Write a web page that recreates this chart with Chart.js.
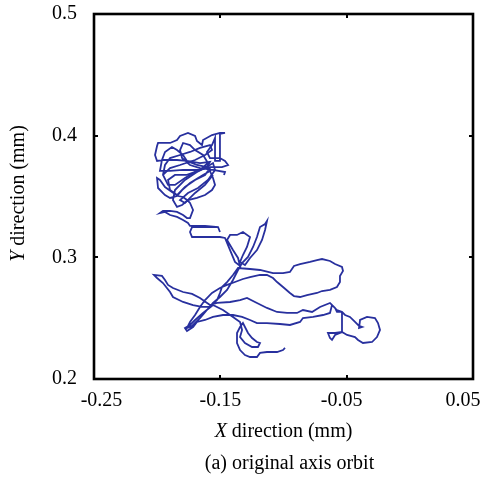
<!DOCTYPE html>
<html><head><meta charset="utf-8">
<script src="https://cdn.jsdelivr.net/npm/chart.js@4"></script>
<style>html,body{margin:0;padding:0;background:#fff}#wrap{width:484px;height:478px}</style>
</head><body><div id="wrap"><canvas id="c" width="484" height="478"></canvas></div>
<script>
// Axis ticks
const xTicks = [-0.25, -0.15, -0.05, 0.05];
const yTicks = [0.2, 0.3, 0.4, 0.5];
const xTitle = ['X', ' direction (mm)'];
const yTitle = ['Y', ' direction (mm)'];
const caption = '(a) original axis orbit';

// Orbit trace, [x (mm), y (mm)] in drawing order
const segBottomLoop = [[-0.0988,0.2255],[-0.1004,0.2238],[-0.1051,0.2222],[-0.1131,0.2222],[-0.1186,0.2214],[-0.1210,0.2181],[-0.1265,0.2181],[-0.1305,0.2197],[-0.1344,0.2238],[-0.1368,0.2296],[-0.1368,0.2378],[-0.1344,0.2427],[-0.1321,0.2460],[-0.1281,0.2378],[-0.1249,0.2337],[-0.1210,0.2304],[-0.1186,0.2296],[-0.1202,0.2263],[-0.1249,0.2263],[-0.1305,0.2296],[-0.1344,0.2345],[-0.1328,0.2403],[-0.1344,0.2469],[-0.1400,0.2510],[-0.1479,0.2567],[-0.1558,0.2608]];
const segLowerStrand = [[-0.1637,0.2543],[-0.1700,0.2485],[-0.1740,0.2444],[-0.1780,0.2419],[-0.1764,0.2395],[-0.1716,0.2427],[-0.1685,0.2469],[-0.1621,0.2485],[-0.1558,0.2510],[-0.1479,0.2526],[-0.1400,0.2526],[-0.1328,0.2510],[-0.1265,0.2485],[-0.1210,0.2460],[-0.1131,0.2460],[-0.1028,0.2452],[-0.0949,0.2444],[-0.0869,0.2469],[-0.0846,0.2501],[-0.0766,0.2510],[-0.0687,0.2526],[-0.0632,0.2543],[-0.0616,0.2608],[-0.0592,0.2584],[-0.0577,0.2551],[-0.0537,0.2551]];
const segRightLoop = [[-0.0513,0.2526],[-0.0474,0.2510],[-0.0434,0.2469],[-0.0402,0.2436],[-0.0378,0.2427],[-0.0402,0.2419],[-0.0394,0.2485],[-0.0339,0.2510],[-0.0276,0.2501],[-0.0252,0.2460],[-0.0236,0.2403],[-0.0260,0.2345],[-0.0299,0.2304],[-0.0371,0.2296],[-0.0410,0.2321],[-0.0434,0.2345],[-0.0497,0.2362],[-0.0537,0.2386],[-0.0592,0.2378],[-0.0648,0.2378],[-0.0632,0.2337],[-0.0616,0.2321],[-0.0592,0.2362],[-0.0537,0.2386],[-0.0537,0.2469],[-0.0537,0.2551]];
const segMiddleStrand = [[-0.0577,0.2567],[-0.0632,0.2625],[-0.0711,0.2592],[-0.0774,0.2551],[-0.0846,0.2567],[-0.0893,0.2543],[-0.0972,0.2543],[-0.1051,0.2551],[-0.1131,0.2584],[-0.1210,0.2625],[-0.1289,0.2666],[-0.1344,0.2649],[-0.1423,0.2633],[-0.1526,0.2625],[-0.1582,0.2608],[-0.1661,0.2666],[-0.1724,0.2699],[-0.1795,0.2715],[-0.1875,0.2748],[-0.1914,0.2773],[-0.1938,0.2814],[-0.1962,0.2847],[-0.2025,0.2855],[-0.2001,0.2830],[-0.1954,0.2789],[-0.1898,0.2715],[-0.1875,0.2674],[-0.1795,0.2633],[-0.1716,0.2608],[-0.1645,0.2592],[-0.1582,0.2592],[-0.1526,0.2649],[-0.1503,0.2707],[-0.1487,0.2756],[-0.1447,0.2797],[-0.1400,0.2855],[-0.1360,0.2912]];
const segBigLoop = [[-0.1265,0.2904],[-0.1186,0.2896],[-0.1083,0.2871],[-0.1004,0.2871],[-0.0949,0.2880],[-0.0917,0.2929],[-0.0869,0.2945],[-0.0790,0.2962],[-0.0735,0.2978],[-0.0695,0.2986],[-0.0632,0.2970],[-0.0592,0.2945],[-0.0537,0.2921],[-0.0529,0.2888],[-0.0553,0.2847],[-0.0553,0.2797],[-0.0577,0.2756],[-0.0632,0.2732],[-0.0695,0.2723],[-0.0735,0.2707],[-0.0814,0.2690],[-0.0869,0.2674],[-0.0917,0.2682],[-0.0949,0.2707],[-0.1004,0.2756],[-0.1051,0.2797],[-0.1083,0.2830],[-0.1131,0.2855],[-0.1186,0.2855],[-0.1265,0.2838],[-0.1321,0.2822],[-0.1384,0.2797],[-0.1447,0.2773],[-0.1503,0.2748],[-0.1566,0.2707],[-0.1621,0.2649],[-0.1661,0.2592],[-0.1700,0.2526],[-0.1740,0.2469],[-0.1764,0.2419],[-0.1724,0.2436],[-0.1661,0.2501],[-0.1606,0.2567],[-0.1558,0.2625],[-0.1503,0.2674],[-0.1447,0.2732],[-0.1400,0.2814],[-0.1360,0.2896]];
const segLeaf = [[-0.1328,0.2953],[-0.1281,0.3003],[-0.1241,0.3085],[-0.1210,0.3167],[-0.1186,0.3249],[-0.1146,0.3274],[-0.1131,0.3299],[-0.1146,0.3225],[-0.1170,0.3143],[-0.1210,0.3060],[-0.1265,0.2995],[-0.1305,0.2937],[-0.1344,0.2962],[-0.1321,0.3019],[-0.1289,0.3085],[-0.1265,0.3167],[-0.1321,0.3208],[-0.1368,0.3184],[-0.1423,0.3184],[-0.1447,0.3143],[-0.1400,0.3060],[-0.1360,0.2995],[-0.1344,0.2929],[-0.1384,0.2962],[-0.1423,0.3060],[-0.1463,0.3159],[-0.1503,0.3167],[-0.1621,0.3167],[-0.1724,0.3167],[-0.1740,0.3208],[-0.1724,0.3249],[-0.1621,0.3249],[-0.1518,0.3249],[-0.1503,0.3208],[-0.1518,0.3249],[-0.1621,0.3258],[-0.1740,0.3258]];
const segRose = [[-0.1756,0.3282],[-0.1795,0.3307],[-0.1843,0.3332],[-0.1898,0.3348],[-0.1938,0.3373],[-0.1978,0.3364],[-0.1954,0.3381],[-0.1898,0.3381],[-0.1843,0.3373],[-0.1795,0.3348],[-0.1764,0.3323],[-0.1740,0.3323],[-0.1716,0.3389],[-0.1740,0.3447],[-0.1764,0.3471],[-0.1795,0.3496],[-0.1835,0.3504],[-0.1883,0.3537],[-0.1938,0.3578],[-0.1978,0.3636],[-0.2001,0.3652],[-0.1993,0.3570],[-0.1938,0.3512],[-0.1898,0.3488],[-0.1843,0.3504],[-0.1803,0.3553],[-0.1740,0.3611],[-0.1637,0.3677],[-0.1582,0.3710],[-0.1558,0.3652],[-0.1542,0.3595],[-0.1566,0.3553],[-0.1621,0.3512],[-0.1685,0.3488],[-0.1756,0.3471],[-0.1803,0.3430],[-0.1843,0.3414],[-0.1875,0.3471],[-0.1859,0.3553],[-0.1780,0.3636],[-0.1685,0.3701],[-0.1606,0.3742],[-0.1582,0.3784],[-0.1661,0.3775],[-0.1764,0.3792],[-0.1843,0.3800],[-0.1954,0.3800],[-0.2001,0.3792],[-0.2017,0.3841],[-0.2001,0.3915],[-0.1993,0.3940],[-0.1898,0.3940],[-0.1843,0.3964],[-0.1819,0.3997],[-0.1756,0.4022],[-0.1700,0.3997],[-0.1685,0.3956],[-0.1645,0.3923],[-0.1637,0.3964],[-0.1566,0.4005],[-0.1503,0.4022],[-0.1463,0.4022],[-0.1503,0.4014],[-0.1503,0.3792],[-0.1542,0.3792],[-0.1542,0.3981],[-0.1566,0.3923],[-0.1606,0.3866],[-0.1582,0.3816],[-0.1503,0.3816],[-0.1463,0.3792],[-0.1439,0.3759],[-0.1487,0.3742],[-0.1606,0.3742],[-0.1685,0.3759],[-0.1764,0.3792],[-0.1795,0.3841],[-0.1843,0.3882],[-0.1883,0.3907],[-0.1938,0.3866],[-0.1962,0.3800],[-0.1978,0.3710],[-0.1898,0.3710],[-0.1795,0.3718],[-0.1685,0.3718],[-0.1582,0.3734],[-0.1621,0.3677],[-0.1700,0.3636],[-0.1780,0.3578],[-0.1843,0.3512],[-0.1898,0.3553],[-0.1914,0.3636],[-0.1859,0.3677],[-0.1764,0.3677],[-0.1661,0.3718],[-0.1598,0.3775],[-0.1637,0.3841],[-0.1700,0.3882],[-0.1740,0.3923],[-0.1795,0.3940],[-0.1819,0.3882],[-0.1803,0.3816],[-0.1740,0.3759],[-0.1661,0.3734],[-0.1558,0.3718],[-0.1463,0.3701],[-0.1471,0.3677]];
const segRoseInner = [[-0.1954,0.3677],[-0.1898,0.3734],[-0.1819,0.3759],[-0.1700,0.3800],[-0.1621,0.3841],[-0.1566,0.3882],[-0.1582,0.3923],[-0.1661,0.3899],[-0.1740,0.3866],[-0.1819,0.3841],[-0.1898,0.3816],[-0.1938,0.3759],[-0.1954,0.3677],[-0.1914,0.3595],[-0.1859,0.3595],[-0.1780,0.3652],[-0.1700,0.3701],[-0.1621,0.3734],[-0.1558,0.3775],[-0.1542,0.3718],[-0.1598,0.3636],[-0.1677,0.3570],[-0.1756,0.3529],[-0.1819,0.3471],[-0.1780,0.3447],[-0.1700,0.3529],[-0.1621,0.3595],[-0.1558,0.3677]];

const toPts = seg => seg.map(p => ({x: p[0], y: p[1]}));
const orbitMain = toPts([].concat(segBottomLoop, segLowerStrand, segRightLoop, segMiddleStrand, segBigLoop, segLeaf, segRose));
const orbitInner = toPts(segRoseInner);

const FONT = '"Liberation Serif", "Times New Roman", serif';
const LINE = 'rgb(40,48,158)';
// visual nudges of tick label text (number of no-break spaces before / after)
const xLabelPadBefore = [3, 0, 0, 0];
const xLabelPadAfter = [0, 0, 2, 4];
const NB = '\u00A0';

const framePlugin = {
  id: 'frame',
  afterDraw(chart) {
    const {ctx, chartArea: a, scales} = chart;
    ctx.save();
    ctx.strokeStyle = '#000';
    ctx.lineWidth = 2.6;
    ctx.strokeRect(a.left, a.top, a.right - a.left, a.bottom - a.top);
    const L = 4;
    ctx.lineWidth = 2;
    ctx.beginPath();
    xTicks.slice(1, -1).forEach(v => {
      const px = Math.round(scales.x.getPixelForValue(v));
      ctx.moveTo(px, a.bottom); ctx.lineTo(px, a.bottom - L);
      ctx.moveTo(px, a.top); ctx.lineTo(px, a.top + L);
    });
    yTicks.slice(1, -1).forEach(v => {
      const py = Math.round(scales.y.getPixelForValue(v));
      ctx.moveTo(a.left, py); ctx.lineTo(a.left + L, py);
      ctx.moveTo(a.right, py); ctx.lineTo(a.right - L, py);
    });
    ctx.stroke();

    ctx.fillStyle = '#000';
    ctx.textBaseline = 'middle';
    ctx.textAlign = 'left';
    const drawMixed = (parts, cx, cy) => {
      ctx.font = 'italic 20px ' + FONT;
      const w1 = ctx.measureText(parts[0]).width;
      ctx.font = '20px ' + FONT;
      const w2 = ctx.measureText(parts[1]).width;
      const x0 = cx - (w1 + w2) / 2;
      ctx.font = 'italic 20px ' + FONT;
      ctx.fillText(parts[0], x0, cy);
      ctx.font = '20px ' + FONT;
      ctx.fillText(parts[1], x0 + w1, cy);
    };
    const cx = (a.left + a.right) / 2;
    drawMixed(xTitle, cx, 432);
    ctx.save();
    ctx.translate(19, (a.top + a.bottom) / 2 - 3);
    ctx.rotate(-Math.PI / 2);
    drawMixed(yTitle, 0, 0);
    ctx.restore();

    ctx.font = '20px ' + FONT;
    ctx.textAlign = 'center';
    ctx.fillText(caption, cx + 6, 464);
    ctx.restore();
  }
};

const lineDs = data => ({
  data, showLine: true, borderColor: LINE, borderWidth: 1.8,
  pointRadius: 0, pointHoverRadius: 0, fill: false, tension: 0
});

new Chart(document.getElementById('c'), {
  type: 'scatter',
  data: {datasets: [lineDs(orbitMain), lineDs(orbitInner)]},
  options: {
    responsive: false,
    animation: false,
    events: [],
    layout: {padding: {left: 0, right: 11, top: 14, bottom: 0}},
    plugins: {legend: {display: false}, tooltip: {enabled: false}},
    scales: {
      x: {
        type: 'linear', min: xTicks[0], max: xTicks[xTicks.length - 1],
        afterBuildTicks: s => { s.ticks = xTicks.map(v => ({value: v})); },
        afterFit: s => { s.height = 99; s.paddingLeft = 0; s.paddingRight = 0; },
        grid: {display: false, drawTicks: false},
        border: {display: false},
        ticks: {
          autoSkip: false, maxRotation: 0, padding: 10, color: '#000',
          font: {family: FONT, size: 20},
          callback: (v, i) => NB.repeat(xLabelPadBefore[i] || 0) + Number(v).toFixed(2) + NB.repeat(xLabelPadAfter[i] || 0)
        }
      },
      y: {
        type: 'linear', min: yTicks[0], max: yTicks[yTicks.length - 1],
        afterBuildTicks: s => { s.ticks = yTicks.map(v => ({value: v})); },
        afterFit: s => { s.width = 94; s.paddingTop = 0; s.paddingBottom = 0; },
        grid: {display: false, drawTicks: false},
        border: {display: false},
        ticks: {
          autoSkip: false, padding: 17, color: '#000',
          font: {family: FONT, size: 20},
          callback: v => Number(v).toFixed(1)
        }
      }
    }
  },
  plugins: [framePlugin]
});
</script>
</body></html>
